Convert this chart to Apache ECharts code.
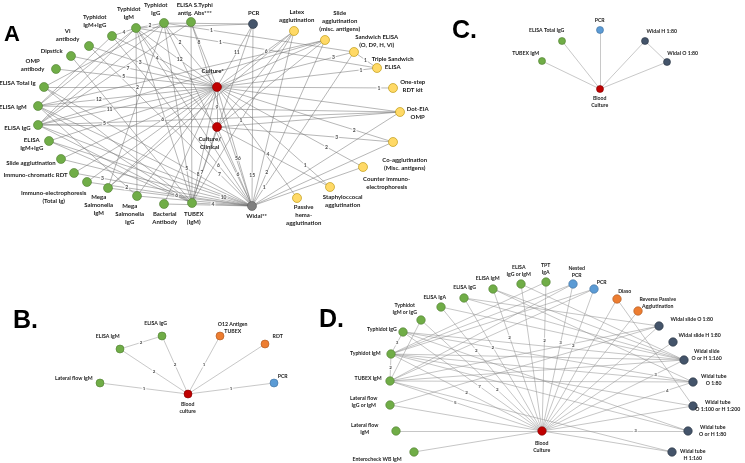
<!DOCTYPE html>
<html><head><meta charset="utf-8">
<script src="https://cdn.jsdelivr.net/npm/echarts@6/dist/echarts.min.js"></script>
<style>html,body{margin:0;padding:0;background:#fff}#c{width:745px;height:463px}</style>
</head><body><div id="c"></div>
<script>
// ---------------- Panel A ----------------
const aKeys  = ['eS','tG','tM','tMG','vi','dip','omp','eTot','eM','eG','eMG','slide','icr','iep','msM','msG','bact','tubex','cul','cc','widal','pcr','latex','slm','sand','trip','rdt','dot','coag','cie','staph','pha'];
const aNames = ['ELISA S.Typhi\nantig. Abs***','Typhidot\nIgG','Typhidot\nIgM','Typhidot\nIgM+IgG','Vi\nantibody','Dipstick','OMP\nantibody','ELISA Total Ig','ELISA IgM','ELISA IgG','ELISA\nIgM+IgG','Slide agglutination','Immuno-chromatic RDT','Immuno-electrophoresis\n(Total Ig)','Mega\nSalmonella\nIgM','Mega\nSalmonella\nIgG','Bacterial\nAntibody','TUBEX\n(IgM)','Culture*','Culture/\nClinical','Widal**','PCR','Latex\nagglutination','Slide\nagglutination\n(misc. antigens)','Sandwich ELISA\n(O, D9, H, Vi)','Triple Sandwich\nELISA','One-step\nRDT kit','Dot-EIA\nOMP','Co-agglutination\n(Misc. antigens)','Counter immuno-\nelectrophoresis','Staphyloccocal\nagglutination','Passive\nhema-\nagglutination'];
const aX = [191,164,136,112,89,71,56,44,38,38,49,61,74,87,108,137,164,192,217,217,252,253,294,325,354,377,393,400,393,363,330,297];
const aY = [22,23,28,36,46,56,69,87,106,125,141,159,173,182,188,196,204,203,87,127,206,24,31,40,52,68,88,112,142,167,187,198];
const aGroup = ['ab','ab','ab','ab','ab','ab','ab','ab','ab','ab','ab','ab','ab','ab','ab','ab','ab','ab','cult','cult','widal','navy','ag','ag','ag','ag','ag','ag','ag','ag','ag','ag'];
const aEdges = [
['cul','eS',8],['cul','tG',2],['cul','tM',12],['cul','tMG',4],['cul','vi',3],['cul','dip',7],['cul','omp',5],['cul','eTot',2],['cul','eM',12],['cul','eG',11],['cul','eMG',5],['cul','slide',null],['cul','icr',6],['cul','iep',null],['cul','msM',null],['cul','msG',null],['cul','bact',null],['cul','tubex',8],['cul','cc',9],['cul','widal',56],['cul','pcr',11],['cul','latex',6],['cul','slm',null],['cul','sand',3],['cul','trip',1],['cul','rdt',1],['cul','dot',null],['cul','coag',2],['cul','cie',2],['cul','staph',1],['cul','pha',1],
['cc','coag',3],['cc','widal',6],['cc','tubex',7],['cc','eG',null],['cc','tM',null],['cc','latex',null],['cc','slm',null],['cc','dot',null],['cc','staph',4],
['widal','tubex',4],['widal','bact',null],['widal','msG',null],['widal','msM',null],['widal','iep',2],['widal','icr',3],['widal','slide',null],['widal','eMG',10],['widal','eG',null],['widal','eM',null],['widal','eTot',null],['widal','tM',null],['widal','tMG',6],['widal','vi',7],['widal','tG',null],['widal','eS',null],['widal','pcr',15],['widal','latex',null],['widal','slm',2],['widal','sand',1],['widal','dot',null],['widal','coag',null],['widal','cie',null],
['pcr','tG',null],['pcr','tM',null],['pcr','tubex',null],
['tM','tG',2],['tMG','tM',4],['tM','eM',null],['tM','eG',null],['tM','tubex',null],['tM','msG',null],['tG','eG',null],['tG','eTot',null],['tubex','tG',5],['tG','msM',null],['eS','eG',null],['eS','tubex',null],['eG','tubex',6],['eM','tubex',null],['eMG','tubex',null],['eTot','tubex',null],['eM','msG',null],['tMG','eM',null],['dip','tubex',null],
['latex','tubex',null],['latex','msM',null],['slm','eM',null],['slm','eG',null],['sand','tG',1],['trip','tM',1],['sand','trip',1],['dot','eG',null],['dot','eM',null]
];

// ---------------- Panel B ----------------
const bKeys  = ['bc','lf','eM','eG','o12','rdt','pcr'];
const bNames = ['Blood\nculture','Lateral flow IgM','ELISA IgM','ELISA IgG','O12 Antigen\nTUBEX','RDT','PCR'];
const bX = [188,100,120,162,220,265,274];
const bY = [394,383,349,336,336,344,383];
const bGroup = ['cult','ab','ab','ab','orange','orange','blue'];
const bEdges = [['bc','lf',1],['bc','eM',2],['bc','eG',2],['bc','o12',1],['bc','rdt',null],['bc','pcr',1],['eM','eG',2]];

// ---------------- Panel C ----------------
const cKeys  = ['bc','tubex','eTot','pcr','wH','wO'];
const cNames = ['Blood\nCulture','TUBEX IgM','ELISA Total IgG','PCR','Widal H 1:80','Widal O 1:80'];
const cX = [600,542,562,600,645,667];
const cY = [89,61,41,30,41,62];
const cGroup = ['cult','ab','ab','blue','navy','navy'];
const cEdges = [['bc','tubex',null],['bc','eTot',null],['bc','pcr',null],['bc','wH',null],['bc','wO',null],['wH','wO',null]];

// ---------------- Panel D ----------------
const dKeys  = ['bc','ent','lfm','lfgm','tubex','tdM','tdG','tdMG','eA','eG','eM','eGM','tpt','nPCR','pcr','diaso','rpa','wsO80','wsH80','wsOH160','wtO80','wt100','wtOH80','wtH160'];
const dNames = ['Blood\nCulture','Enterocheck WB IgM','Lateral flow\nIgM','Lateral flow\nIgG or IgM','TUBEX IgM','Typhidot IgM','Typhidot IgG','Typhidot\nIgM or IgG','ELISA IgA','ELISA IgG','ELISA IgM','ELISA\nIgG or IgM','TPT\nIgA','Nested\nPCR','PCR','Diaso','Reverse Passive\nAgglutination','Widal slide O 1:80','Widal slide H 1:80','Widal slide\nO or H 1:160','Widal tube\nO 1:80','Widal tube\nO 1:100 or H 1:200','Widal tube\nO or H 1:80','Widal tube\nH 1:160'];
const dX = [542,414,396,390,390,391,403,421,441,464,493,521,546,573,594,617,638,659,673,684,693,693,688,672];
const dY = [431,452,431,405,381,354,332,320,307,298,289,284,282,284,289,299,311,326,342,360,382,406,431,452];
const dGroup = ['cult','ab','ab','ab','ab','ab','ab','ab','ab','ab','ab','ab','ab','blue','blue','orange','orange','navy','navy','navy','navy','navy','navy','navy'];
const dEdges = [
['bc','ent',null],['bc','lfm',null],['bc','lfgm',null],['bc','tubex',5],['bc','tdM',2],['bc','tdG',7],['bc','tdMG',2],['bc','eA',2],['bc','eG',2],['bc','eM',2],['bc','eGM',null],['bc','tpt',2],['bc','nPCR',3],['bc','pcr',2],['bc','diaso',null],['bc','rpa',null],['bc','wsO80',null],['bc','wsH80',null],['bc','wsOH160',3],['bc','wtO80',4],['bc','wt100',null],['bc','wtOH80',3],['bc','wtH160',null],
['tdG','tdM',3],['tdM','tubex',2],
['tdM','wsOH160',null],['tdM','wtO80',null],['tdM','wt100',null],['tdM','wtOH80',null],['tdM','nPCR',null],['tdM','pcr',null],
['tubex','wtO80',null],['tubex','wsO80',null],['tubex','pcr',null],['tubex','nPCR',null],['tubex','wsOH160',null],['tubex','wtH160',null],
['tdG','wsOH160',null],['tdG','wtO80',null],['tdG','wtOH80',null],
['eG','wsO80',null],['eG','wsOH160',null],['eM','wsOH160',null],['eM','wtO80',null],['eA','wsOH160',null],
['lfgm','wsO80',null],['tdMG','tubex',null],['diaso','wt100',null],['eGM','wsOH160',null],['tpt','tdM',null]
];

// ---------------- styles ----------------
// node label placement: [dx, dy, align] from node centre
const COLORS  = {ab:'#70ad47', cult:'#c00000', widal:'#7f7f7f', navy:'#44546a', ag:'#ffd966', blue:'#5b9bd5', orange:'#ed7d31'};
const BORDERS = {ab:'#4f7d31', cult:'#7f0000', widal:'#595959', navy:'#2a3441', ag:'#b38f00', blue:'#3f6f9c', orange:'#a9561f'};
const aPlace = {eS:[4,-13],tG:[-8,-14],tM:[-7,-15],tMG:[-17,-15],vi:[-21,-11],dip:[-8,-5,'right'],omp:[-23,-4],eTot:[-8,-4,'right'],eM:[-11,1,'right'],eG:[-7,3,'right'],eMG:[-17,3],slide:[-5,4,'right'],icr:[-6,2,'right'],iep:[-33,15],msM:[-9,17],msG:[-7,18],bact:[1,14],tubex:[2,15],cul:[-4,-16],cc:[-7,16],widal:[5,10],pcr:[1,-11],latex:[3,-15],slm:[15,-19],sand:[23,-11],trip:[16,-5],rdt:[20,-2],dot:[18,1],coag:[12,22],cie:[24,16],staph:[13,14],pha:[7,17]};
const bPlace = {bc:[0,14],lf:[-7,-4,'right'],eM:[-12,-12],eG:[-6,-12],o12:[13,-8],rdt:[13,-7],pcr:[9,-6]};
const cPlace = {bc:[0,13],tubex:[-16,-7],eTot:[-15,-10],pcr:[0,-9],wH:[17,-9],wO:[16,-8]};
const dPlace = {bc:[0,16],ent:[-12,8,'right'],lfm:[-31,-2],lfgm:[-26,-3],tubex:[-8,-2,'right'],tdM:[-10,0,'right'],tdG:[-6,-2,'right'],tdMG:[-16,-11],eA:[-6,-9],eG:[1,-10],eM:[-5,-10],eGM:[-2,-13],tpt:[0,-13],nPCR:[4,-12],pcr:[8,-6],diaso:[8,-7],rpa:[20,-8],wsO80:[33,-6],wsH80:[27,-6],wsOH160:[23,-5],wtO80:[21,-2],wt100:[25,0],wtOH80:[25,0],wtH160:[21,3]};
// where along an edge (fraction from first node) its count label sits; default 0.5
const aLabelT = {'cul-widal':0.6,'widal-pcr':0.17,'widal-tubex':0.65,'widal-eMG':0.14,'cc-widal':0.6,'cul-tubex':0.75,'tubex-tG':0.19,'cc-tubex':0.6,'widal-vi':0.2,'widal-tMG':0.24,'widal-sand':0.12,'widal-slm':0.2,'cul-staph':0.78,'cul-pha':0.3,'cc-staph':0.45,'cul-coag':0.78,'cc-coag':0.68,'cul-cie':0.75,'cul-rdt':0.92,'cul-trip':0.9,'cul-sand':0.85,'cul-latex':0.64,'cul-pcr':0.55,'sand-tG':0.75,'trip-tM':0.65,'cul-tG':0.7,'cul-eS':0.69,'cul-tM':0.46,'cul-tMG':0.57,'cul-vi':0.6,'cul-dip':0.61,'cul-omp':0.58,'cul-eTot':0.46,'cul-eM':0.66,'cul-eG':0.6,'cul-eMG':0.67,'cul-icr':0.38,'widal-icr':0.84,'widal-iep':0.76,'eG-tubex':0.9};
const dLabelT = {'bc-eM':0.66,'bc-tpt':0.61,'bc-nPCR':0.6,'bc-pcr':0.6,'bc-eG':0.63,'bc-eA':0.65,'bc-tdG':0.45,'bc-tdMG':0.37,'bc-tubex':0.57,'bc-wsOH160':0.8,'bc-wtO80':0.83,'bc-wtOH80':0.64};

function makeSeries(keys, texts, xs, ys, groups, edges, place, st) {
  const idx = {}; keys.forEach((k,i)=>idx[k]=i);
  const s = st.size;
  const data = keys.map((k,i)=>{
    const p = place[k] || [0,-10];
    return {
      name: k, value: [xs[i], ys[i]], symbolSize: s,
      itemStyle: {color: COLORS[groups[i]], borderColor: BORDERS[groups[i]], borderWidth: 0.6},
      label: {show:true, formatter: texts[i], position: [s/2 + p[0], s/2 + p[1]], align: p[2] || 'center', verticalAlign:'middle',
              fontSize: st.font, lineHeight: st.lh, fontWeight:'bold', fontFamily:'Lato', color:'#1a1a1a'}
    };
  });
  const links = edges.map(e=>({source: idx[e[0]], target: idx[e[1]]}));
  return {
    type:'graph', layout:'none', coordinateSystem:'cartesian2d', xAxisIndex:0, yAxisIndex:0,
    symbol:'circle', data, links, roam:false, silent:true, animation:false, z:2,
    lineStyle:{color: st.edge, width: st.ew, opacity:1, curveness:0},
    edgeLabel:{show:false},
    emphasis:{disabled:true}
  };
}
// count labels of edges, positioned along each edge from the node coordinates
function makeEdgeLabels(keys, xs, ys, edges, tMap, st) {
  const idx = {}; keys.forEach((k,i)=>idx[k]=i);
  const data = edges.filter(e=>e[2]!=null).map(e=>{
    const a = idx[e[0]], b = idx[e[1]];
    const t = tMap[e[0]+'-'+e[1]] != null ? tMap[e[0]+'-'+e[1]] : 0.5;
    return [xs[a] + t*(xs[b]-xs[a]), ys[a] + t*(ys[b]-ys[a]), e[2]];
  });
  return {
    type:'scatter', xAxisIndex:0, yAxisIndex:0, data, symbolSize:0, silent:true, animation:false, z:3,
    label:{show:true, position:'inside', formatter: p=>String(p.value[2]), fontSize: st.ef, fontWeight:'bold', fontFamily:'Lato', color:'#222', backgroundColor:'#fff', padding:[0,1]},
    emphasis:{disabled:true}
  };
}

const stA = {size:9,font:6,lh:8,edge:'#6f6f6f',ew:0.5,ef:5};
const stB = {size:8,font:5.2,lh:7,edge:'#b0b0b0',ew:0.7,ef:4.5};
const stC = {size:7,font:5.2,lh:7,edge:'#b0b0b0',ew:0.7,ef:4.5};
const stD = {size:8.5,font:5.2,lh:7,edge:'#8c8c8c',ew:0.5,ef:4.5};

const chart = echarts.init(document.getElementById('c'), null, {renderer:'canvas'});
chart.setOption({
  backgroundColor:'#fff',
  animation:false,
  grid:{left:0,right:0,top:0,bottom:0},
  xAxis:{type:'value', min:0, max:745, show:false},
  yAxis:{type:'value', min:0, max:463, inverse:true, show:false},
  graphic:[
    {type:'text', left:4, top:24, style:{text:'A', font:'bold 22px "Liberation Sans", Arial', fill:'#000'}},
    {type:'text', left:13, top:309, style:{text:'B.', font:'bold 25px "Liberation Sans", Arial', fill:'#000'}},
    {type:'text', left:452, top:19, style:{text:'C.', font:'bold 25px "Liberation Sans", Arial', fill:'#000'}},
    {type:'text', left:319, top:308, style:{text:'D.', font:'bold 25px "Liberation Sans", Arial', fill:'#000'}}
  ],
  series:[
    makeSeries(aKeys,aNames,aX,aY,aGroup,aEdges,aPlace,stA),
    makeEdgeLabels(aKeys,aX,aY,aEdges,aLabelT,stA),
    makeSeries(bKeys,bNames,bX,bY,bGroup,bEdges,bPlace,stB),
    makeEdgeLabels(bKeys,bX,bY,bEdges,{},stB),
    makeSeries(cKeys,cNames,cX,cY,cGroup,cEdges,cPlace,stC),
    makeSeries(dKeys,dNames,dX,dY,dGroup,dEdges,dPlace,stD),
    makeEdgeLabels(dKeys,dX,dY,dEdges,dLabelT,stD)
  ]
});
</script>
</body></html>
